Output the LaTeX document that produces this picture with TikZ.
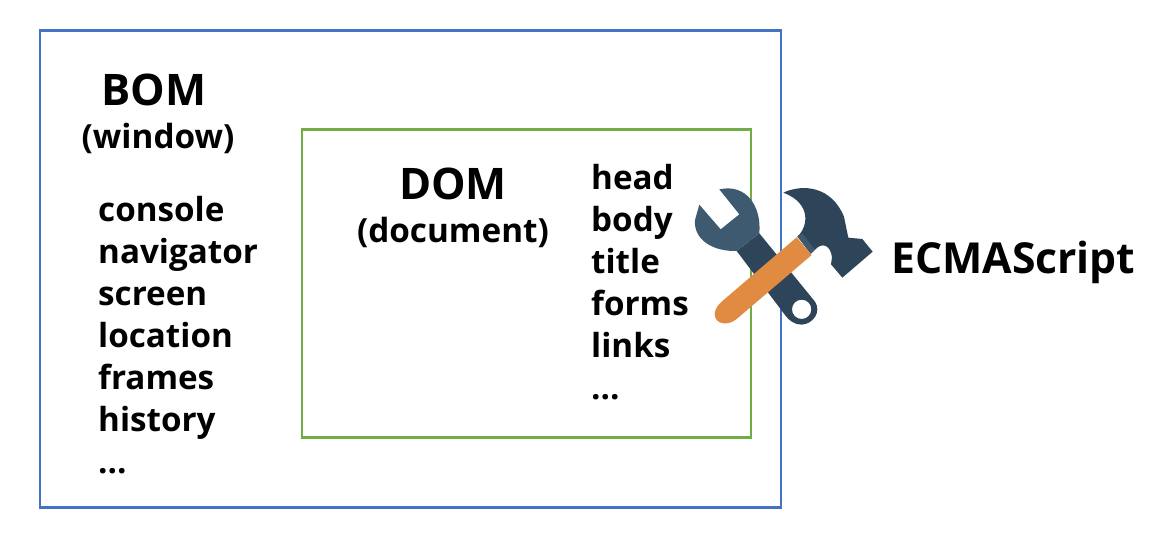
\documentclass[tikz,border=0pt]{standalone}
\usepackage{fontspec}
\setmainfont{Open Sans}[BoldFont={Open Sans Bold}]
\definecolor{bluebox}{HTML}{4472C4}
\definecolor{greenbox}{HTML}{70AD47}
\definecolor{darkslate}{HTML}{2D4459}
\definecolor{midslate}{HTML}{3D5A70}
\definecolor{toolorange}{HTML}{E08A42}
\tikzset{
 boxline/.style={draw=#1,line width=2.6pt,fill=none},
 big/.style={font=\fontsize{43.5}{43.5}\selectfont\bfseries,inner sep=0pt,anchor=base},
 sub/.style={font=\fontsize{33.3}{33.3}\selectfont\bfseries,inner sep=0pt,anchor=base},
 listing/.style={font=\fontsize{33.2}{42}\selectfont\bfseries,inner sep=0pt,anchor=north west,align=left},
}
\begin{document}
\begin{tikzpicture}[x=1pt,y=-1pt]
\useasboundingbox (0,0) rectangle (1175,552);
\node[boxline=bluebox,minimum width=741pt,minimum height=477pt,inner sep=0pt,anchor=north west] (bom) at (38.7,29.2) {};
\node[boxline=greenbox,minimum width=449pt,minimum height=308pt,inner sep=0pt,anchor=north west] (dom) at (300.7,128.2) {};
\node[big] (bomt) at (154,105) {BOM};
\node[sub] (bomw) at (158,148) {(window)};
\node[listing] (bomlist) at (98,196) {console\\navigator\\screen\\location\\frames\\history\\...};
\node[big] (domt) at (453,199) {DOM};
\node[sub] (domd) at (453,242) {(document)};
\node[listing] (domlist) at (591,164) {head\\body\\title\\forms\\links\\...};
\node[font=\fontsize{42.7}{42.7}\selectfont\bfseries,inner sep=0pt,anchor=base west] (ecma) at (891,273) {ECMAScript};
\begin{scope}[shift={(680,170)},x=0.3333pt,y=-0.3333pt]
 % wrench
 \fill[darkslate,even odd rule] (238,190) -- (405,395) .. controls (425,425) and (400,462) .. (365,464) .. controls (345,465) and (325,450) .. (315,435) -- (170,243) -- cycle (365,418) circle[radius=29];
 \fill[midslate] (118,58) .. controls (200,40) and (245,110) .. (238,190) -- (170,243) .. controls (100,245) and (40,210) .. (45,150) -- (58,104) -- (122,178) -- (178,133) -- cycle;
 % hammer
 \fill[darkslate] (310,68) .. controls (370,40) and (455,50) .. (492,140) -- (505,203) -- (547,207) -- (578,245) -- (487,323) -- (453,283) -- (456,262) .. controls (452,225) and (425,215) .. (405,240) -- (352,200) .. controls (385,170) and (395,100) .. (310,68) -- cycle;
 \fill[midslate] (352,200) -- (367,190) -- (405,240) -- (392,252) -- cycle;
 \fill[toolorange] (350,202) -- (395,255) -- (170,447) .. controls (145,468) and (105,465) .. (104,432) .. controls (105,415) and (115,405) .. (125,395) -- cycle;
\end{scope}
\end{tikzpicture}
\end{document}
